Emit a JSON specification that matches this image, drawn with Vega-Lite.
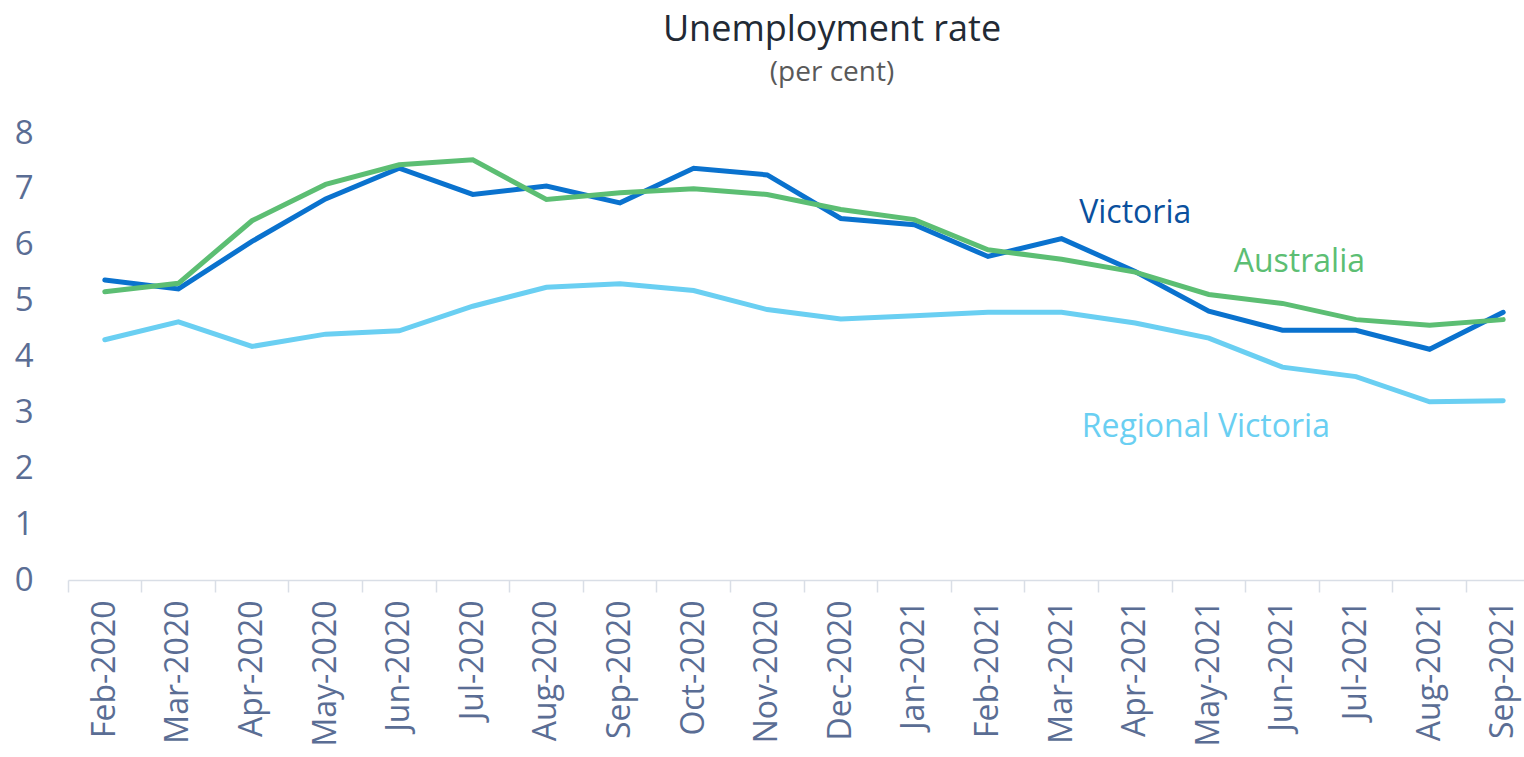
{
  "$schema": "https://vega.github.io/schema/vega-lite/v6.json",
  "width": 1456,
  "height": 447,
  "autosize": {"type": "none"},
  "padding": {"left": 68, "top": 133, "right": 0, "bottom": 177},
  "background": "white",
  "config": {"view": {"stroke": null}},
  "title": {
    "text": "Unemployment rate",
    "subtitle": "(per cent)",
    "anchor": "middle",
    "frame": "group",
    "dx": 36,
    "offset": 29,
    "font": "Open Sans",
    "fontSize": 36,
    "fontWeight": "normal",
    "color": "#222A35",
    "subtitleFont": "Open Sans",
    "subtitleFontSize": 28,
    "subtitleColor": "#595959",
    "subtitlePadding": 10
  },
  "datasets": {
    "series": [
      {"month": "Feb-2020", "series": "Victoria", "value": 5.37},
      {"month": "Mar-2020", "series": "Victoria", "value": 5.21},
      {"month": "Apr-2020", "series": "Victoria", "value": 6.06},
      {"month": "May-2020", "series": "Victoria", "value": 6.82},
      {"month": "Jun-2020", "series": "Victoria", "value": 7.37},
      {"month": "Jul-2020", "series": "Victoria", "value": 6.90},
      {"month": "Aug-2020", "series": "Victoria", "value": 7.05},
      {"month": "Sep-2020", "series": "Victoria", "value": 6.75},
      {"month": "Oct-2020", "series": "Victoria", "value": 7.37},
      {"month": "Nov-2020", "series": "Victoria", "value": 7.25},
      {"month": "Dec-2020", "series": "Victoria", "value": 6.47},
      {"month": "Jan-2021", "series": "Victoria", "value": 6.36},
      {"month": "Feb-2021", "series": "Victoria", "value": 5.79},
      {"month": "Mar-2021", "series": "Victoria", "value": 6.11},
      {"month": "Apr-2021", "series": "Victoria", "value": 5.52},
      {"month": "May-2021", "series": "Victoria", "value": 4.81},
      {"month": "Jun-2021", "series": "Victoria", "value": 4.47},
      {"month": "Jul-2021", "series": "Victoria", "value": 4.47},
      {"month": "Aug-2021", "series": "Victoria", "value": 4.13},
      {"month": "Sep-2021", "series": "Victoria", "value": 4.79},
      {"month": "Feb-2020", "series": "Australia", "value": 5.16},
      {"month": "Mar-2020", "series": "Australia", "value": 5.31},
      {"month": "Apr-2020", "series": "Australia", "value": 6.43},
      {"month": "May-2020", "series": "Australia", "value": 7.08},
      {"month": "Jun-2020", "series": "Australia", "value": 7.43},
      {"month": "Jul-2020", "series": "Australia", "value": 7.52},
      {"month": "Aug-2020", "series": "Australia", "value": 6.81},
      {"month": "Sep-2020", "series": "Australia", "value": 6.93},
      {"month": "Oct-2020", "series": "Australia", "value": 7.00},
      {"month": "Nov-2020", "series": "Australia", "value": 6.90},
      {"month": "Dec-2020", "series": "Australia", "value": 6.63},
      {"month": "Jan-2021", "series": "Australia", "value": 6.45},
      {"month": "Feb-2021", "series": "Australia", "value": 5.91},
      {"month": "Mar-2021", "series": "Australia", "value": 5.74},
      {"month": "Apr-2021", "series": "Australia", "value": 5.51},
      {"month": "May-2021", "series": "Australia", "value": 5.11},
      {"month": "Jun-2021", "series": "Australia", "value": 4.95},
      {"month": "Jul-2021", "series": "Australia", "value": 4.66},
      {"month": "Aug-2021", "series": "Australia", "value": 4.56},
      {"month": "Sep-2021", "series": "Australia", "value": 4.66},
      {"month": "Feb-2020", "series": "Regional Victoria", "value": 4.30},
      {"month": "Mar-2020", "series": "Regional Victoria", "value": 4.62},
      {"month": "Apr-2020", "series": "Regional Victoria", "value": 4.18},
      {"month": "May-2020", "series": "Regional Victoria", "value": 4.40},
      {"month": "Jun-2020", "series": "Regional Victoria", "value": 4.46},
      {"month": "Jul-2020", "series": "Regional Victoria", "value": 4.90},
      {"month": "Aug-2020", "series": "Regional Victoria", "value": 5.24},
      {"month": "Sep-2020", "series": "Regional Victoria", "value": 5.30},
      {"month": "Oct-2020", "series": "Regional Victoria", "value": 5.18},
      {"month": "Nov-2020", "series": "Regional Victoria", "value": 4.84},
      {"month": "Dec-2020", "series": "Regional Victoria", "value": 4.67},
      {"month": "Jan-2021", "series": "Regional Victoria", "value": 4.73},
      {"month": "Feb-2021", "series": "Regional Victoria", "value": 4.79},
      {"month": "Mar-2021", "series": "Regional Victoria", "value": 4.79},
      {"month": "Apr-2021", "series": "Regional Victoria", "value": 4.60},
      {"month": "May-2021", "series": "Regional Victoria", "value": 4.33},
      {"month": "Jun-2021", "series": "Regional Victoria", "value": 3.81},
      {"month": "Jul-2021", "series": "Regional Victoria", "value": 3.64},
      {"month": "Aug-2021", "series": "Regional Victoria", "value": 3.19},
      {"month": "Sep-2021", "series": "Regional Victoria", "value": 3.21}
    ],
    "labels": [
      {"month": "Apr-2021", "value": 6.57, "label": "Victoria"},
      {"month": "Jun-2021", "value": 5.70, "label": "Australia"},
      {"month": "May-2021", "value": 2.73, "label": "Regional Victoria"}
    ]
  },
  "encoding": {
    "x": {
      "field": "month",
      "type": "ordinal",
      "sort": null,
      "bandPosition": 0.5,
      "scale": {"type": "band", "paddingInner": 0, "paddingOuter": 0, "range": [0, 1472],
        "domain": ["Feb-2020","Mar-2020","Apr-2020","May-2020","Jun-2020","Jul-2020","Aug-2020","Sep-2020","Oct-2020","Nov-2020","Dec-2020","Jan-2021","Feb-2021","Mar-2021","Apr-2021","May-2021","Jun-2021","Jul-2021","Aug-2021","Sep-2021"]},
      "axis": {
        "title": null,
        "bandPosition": 0,
        "labelAngle": -90,
        "labelAlign": "right",
        "labelBaseline": "middle",
        "labelFont": "Open Sans",
        "labelFontSize": 32,
        "labelColor": "#5A6D94",
        "labelPadding": 8,
        "labelOverlap": false,
        "labelFlush": false,
        "labelBound": false,
        "tickSize": 12,
        "tickColor": "#D9DEE6",
        "tickWidth": 1.5,
        "domainColor": "#D9DEE6",
        "domainWidth": 1.5,
        "grid": false
      }
    },
    "y": {
      "field": "value",
      "type": "quantitative",
      "scale": {"domain": [0, 8], "nice": false, "zero": true},
      "axis": {
        "title": null,
        "values": [0, 1, 2, 3, 4, 5, 6, 7, 8],
        "domain": false,
        "ticks": false,
        "grid": false,
        "labelFont": "Open Sans",
        "labelFontSize": 33,
        "labelColor": "#5A6D94",
        "labelPadding": 35
      }
    }
  },
  "layer": [
    {
      "data": {"name": "series"},
      "mark": {"type": "line", "strokeWidth": 5, "strokeCap": "round"},
      "encoding": {
        "color": {
          "field": "series",
          "type": "nominal",
          "scale": {"domain": ["Victoria", "Australia", "Regional Victoria"], "range": ["#0A72CE", "#5CBE73", "#6ACFF2"]},
          "legend": null
        },
        "detail": {"field": "series"}
      }
    },
    {
      "data": {"name": "labels"},
      "transform": [{"filter": "datum.label === 'Victoria'"}],
      "mark": {"type": "text", "font": "Open Sans", "fontSize": 32, "align": "center", "baseline": "middle", "color": "#0A509E"},
      "encoding": {"text": {"field": "label"}}
    },
    {
      "data": {"name": "labels"},
      "transform": [{"filter": "datum.label === 'Australia'"}],
      "mark": {"type": "text", "font": "Open Sans", "fontSize": 32, "align": "center", "baseline": "middle", "dx": 17, "color": "#5CBE73"},
      "encoding": {"text": {"field": "label"}}
    },
    {
      "data": {"name": "labels"},
      "transform": [{"filter": "datum.label === 'Regional Victoria'"}],
      "mark": {"type": "text", "font": "Open Sans", "fontSize": 32, "align": "center", "baseline": "middle", "dx": -3, "color": "#6ACFF2"},
      "encoding": {"text": {"field": "label"}}
    }
  ]
}
